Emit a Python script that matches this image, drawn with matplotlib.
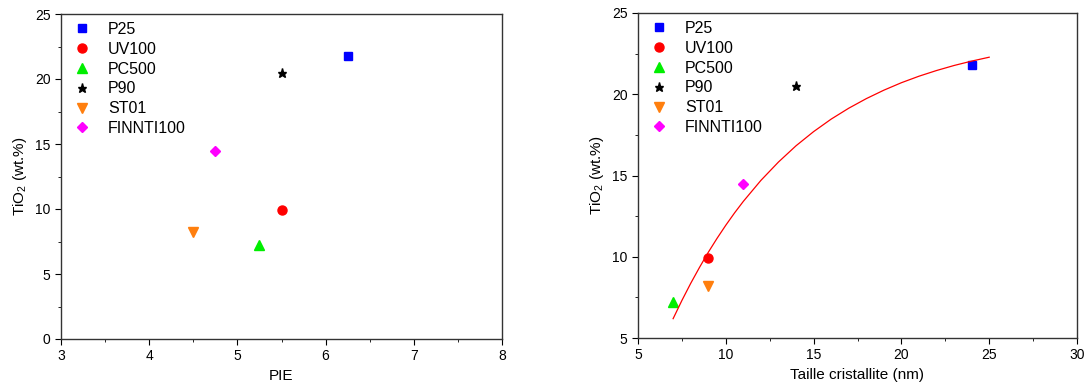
import matplotlib
matplotlib.use("Agg")
import matplotlib.pyplot as plt
from matplotlib.ticker import MultipleLocator

plt.rcParams['font.family'] = ['Liberation Sans', 'DejaVu Sans']
plt.rcParams['mathtext.fontset'] = 'custom'
plt.rcParams['mathtext.rm'] = 'Liberation Sans'
plt.rcParams['mathtext.it'] = 'Liberation Sans:italic'

samples = ['P25', 'UV100', 'PC500', 'P90', 'ST01', 'FINNTI100']
pie = [6.25, 5.5, 5.25, 5.5, 4.5, 4.75]
taille = [24, 9, 7, 14, 9, 11]
tio2 = [21.8, 9.9, 7.2, 20.5, 8.2, 14.5]
markers = ['s', 'o', '^', '*', 'v', 'D']
colors = ['#0000ff', '#ff0000', '#00ee00', '#000000', '#ff7f0e', '#ff00ff']
msizes = [5.5, 6.5, 6.5, 6.5, 6.5, 5.5]

fit_x = [7, 7.5, 8, 8.5, 9, 9.5, 10, 10.5, 11, 12, 13, 14, 15, 16, 17, 18, 19, 20, 21, 22, 23, 24, 25]
fit_y = [6.19, 7.31, 8.36, 9.34, 10.27, 11.13, 11.94, 12.70, 13.41, 14.70, 15.83, 16.83, 17.70,
         18.47, 19.14, 19.73, 20.25, 20.71, 21.11, 21.46, 21.77, 22.04, 22.28]

fig = plt.figure(figsize=(10.85, 3.9), dpi=100)
ax1 = fig.add_axes([61/1085, 51/390, 441/1085, 325/390])
ax2 = fig.add_axes([638/1085, 52/390, 439/1085, 325/390])

for ax, xs in ((ax1, pie), (ax2, taille)):
    for s, x, y, m, c, ms in zip(samples, xs, tio2, markers, colors, msizes):
        ax.plot([x], [y], linestyle='none', marker=m, color=c, markersize=ms, label=s)
    ax.legend(loc='upper left', frameon=False, fontsize=11.5, handletextpad=0.85,
              borderaxespad=0.1, labelspacing=0.3, handlelength=1.6)
    ax.tick_params(which='both', direction='out', labelsize=10, top=False, right=False)
    ax.tick_params(which='major', length=4)
    ax.tick_params(which='minor', length=2.5)
    for sp in ax.spines.values():
        sp.set_linewidth(1.0)
        sp.set_color('#333333')
    ax.set_ylabel(r'TiO$_2$ (wt.%)', fontsize=11)

ax2.plot(fit_x, fit_y, color='red', linewidth=0.9)

ax1.set_xlim(3, 8)
ax1.set_ylim(0, 25)
ax1.xaxis.set_major_locator(MultipleLocator(1))
ax1.xaxis.set_minor_locator(MultipleLocator(0.5))
ax1.yaxis.set_major_locator(MultipleLocator(5))
ax1.yaxis.set_minor_locator(MultipleLocator(2.5))
ax1.set_xlabel('PIE', fontsize=11)

ax2.set_xlim(5, 30)
ax2.set_ylim(5, 25)
ax2.xaxis.set_major_locator(MultipleLocator(5))
ax2.xaxis.set_minor_locator(MultipleLocator(2.5))
ax2.yaxis.set_major_locator(MultipleLocator(5))
ax2.yaxis.set_minor_locator(MultipleLocator(2.5))
ax2.set_xlabel('Taille cristallite (nm)', fontsize=11)

fig.savefig('out.png', dpi=100)
